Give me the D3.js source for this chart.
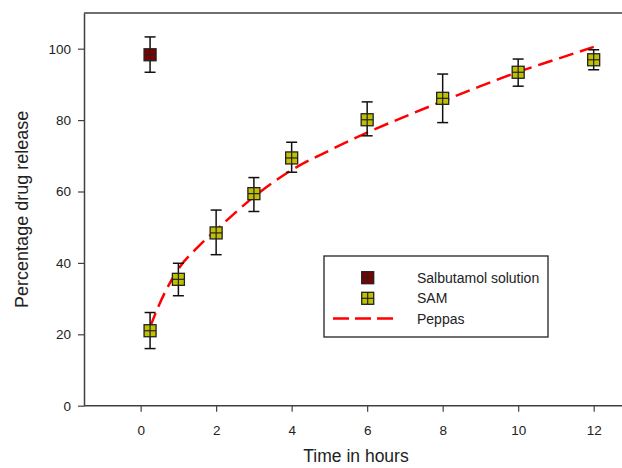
<!DOCTYPE html>
<html><head><meta charset="utf-8">
<script src="https://cdn.jsdelivr.net/npm/d3@7"></script>
<style>body{margin:0;background:#fff}svg{display:block}text{font-family:"Liberation Sans",Arial,sans-serif}</style>
</head><body><svg id="c" width="622" height="468"></svg>
<script>
// Data
const salbTime = [0.25];
const salbValue = [98.3];
const salbLow = [93.4];
const salbHigh = [103.3];

const samTime = [0.25, 1, 2, 3, 4, 6, 8, 10, 12];
const samValue = [21.0, 35.4, 48.4, 59.4, 69.4, 80.1, 86.1, 93.4, 96.9];
const samLow = [16.0, 30.8, 42.3, 54.4, 65.4, 75.6, 79.3, 89.5, 94.1];
const samHigh = [26.1, 39.9, 54.8, 63.9, 73.8, 85.1, 92.9, 97.1, 99.7];

const peppasTime = [0.25, 0.5, 1, 1.5, 2, 3, 4, 5, 6, 7, 8, 9, 10, 11, 12];
const peppasValue = [22, 28.5, 38.3, 44.3, 49.2, 58.5, 66, 71.5, 76.5, 81, 85.3, 89.5, 93.5, 97, 100.5];

const xTicks = [0, 2, 4, 6, 8, 10, 12];
const yTicks = [0, 20, 40, 60, 80, 100];
const legendLabels = ["Salbutamol solution", "SAM", "Peppas"];

const svg = d3.select("#c");
const L = 84, T = 13, R = 622, B = 405.7;
const x = d3.scaleLinear().domain([-1.5, 12.75]).range([L, R]);
const y = d3.scaleLinear().domain([0, 110]).range([B, T]);

const axisCol = "#404040";
// frame top
svg.append("line").attr("x1", L).attr("x2", R).attr("y1", T).attr("y2", T)
  .attr("stroke", axisCol).attr("stroke-width", 1.5);

const xAxis = svg.append("g").attr("transform", `translate(0,${B})`)
  .call(d3.axisBottom(x).tickValues(xTicks).tickSize(6).tickPadding(14).tickSizeOuter(0));
const yAxis = svg.append("g").attr("transform", `translate(${L},0)`)
  .call(d3.axisLeft(y).tickValues(yTicks).tickSize(6).tickPadding(7).tickSizeOuter(0));
[xAxis, yAxis].forEach(g => {
  g.select(".domain").attr("stroke", axisCol).attr("stroke-width", 1.5);
  g.selectAll(".tick line").attr("stroke", axisCol).attr("stroke-width", 1.2);
  g.selectAll("text").attr("font-size", 13.5).attr("fill", "#222")
    .attr("font-family", "'Liberation Sans',Arial,sans-serif");
});
xAxis.select(".domain").attr("d", `M${L},0H${R}`);

// axis titles
svg.append("text").attr("x", 356).attr("y", 462).attr("text-anchor", "middle")
  .attr("font-size", 17.5).attr("fill", "#222").text("Time in hours");
svg.append("text").attr("transform", `translate(28,${y(55)}) rotate(-90)`)
  .attr("text-anchor", "middle").attr("font-size", 18).attr("fill", "#222").text("Percentage drug release");

// peppas curve
const line = d3.line().x(d => x(d[0])).y(d => y(d[1])).curve(d3.curveMonotoneX);
svg.append("path").datum(peppasTime.map((t, i) => [t, peppasValue[i]]))
  .attr("d", line).attr("fill", "none").attr("stroke", "#ff0000")
  .attr("stroke-width", 2.5).attr("stroke-dasharray", "15,7");

function errorBars(times, lo, hi) {
  const g = svg.append("g").attr("stroke", "#111").attr("stroke-width", 1.5);
  times.forEach((t, i) => {
    const cx = x(t);
    g.append("line").attr("x1", cx).attr("x2", cx).attr("y1", y(lo[i])).attr("y2", y(hi[i]));
    g.append("line").attr("x1", cx - 5.5).attr("x2", cx + 5.5).attr("y1", y(lo[i])).attr("y2", y(lo[i]));
    g.append("line").attr("x1", cx - 5.5).attr("x2", cx + 5.5).attr("y1", y(hi[i])).attr("y2", y(hi[i]));
  });
}
function marker(g, cx, cy, fill) {
  const s = 12;
  g.append("rect").attr("x", cx - s / 2).attr("y", cy - s / 2).attr("width", s).attr("height", s)
    .attr("fill", fill).attr("stroke", "#222").attr("stroke-width", 1.3);
  g.append("line").attr("x1", cx - s / 2).attr("x2", cx + s / 2).attr("y1", cy).attr("y2", cy)
    .attr("stroke", "#222").attr("stroke-width", 1.2);
  g.append("line").attr("x1", cx).attr("x2", cx).attr("y1", cy - s / 2).attr("y2", cy + s / 2)
    .attr("stroke", "#222").attr("stroke-width", 1.2);
}
errorBars(salbTime, salbLow, salbHigh);
errorBars(samTime, samLow, samHigh);
const mg = svg.append("g");
salbTime.forEach((t, i) => marker(mg, x(t), y(salbValue[i]), "#800000"));
samTime.forEach((t, i) => marker(mg, x(t), y(samValue[i]), "#c0c000"));

// legend
const lg = svg.append("g");
lg.append("rect").attr("x", 324).attr("y", 256).attr("width", 224).attr("height", 81)
  .attr("fill", "#fff").attr("stroke", "#222").attr("stroke-width", 1.3);
marker(lg, 367.7, 277.7, "#800000");
marker(lg, 367.7, 298.3, "#c0c000");
lg.append("line").attr("x1", 333).attr("x2", 396).attr("y1", 318.5).attr("y2", 318.5)
  .attr("stroke", "#ff0000").attr("stroke-width", 2.5).attr("stroke-dasharray", "16,6");
[277.7, 298.3, 318.5].forEach((yy, i) => {
  lg.append("text").attr("x", 417).attr("y", yy + 5).attr("font-size", 14)
    .attr("fill", "#222").text(legendLabels[i]);
});
</script></body></html>
